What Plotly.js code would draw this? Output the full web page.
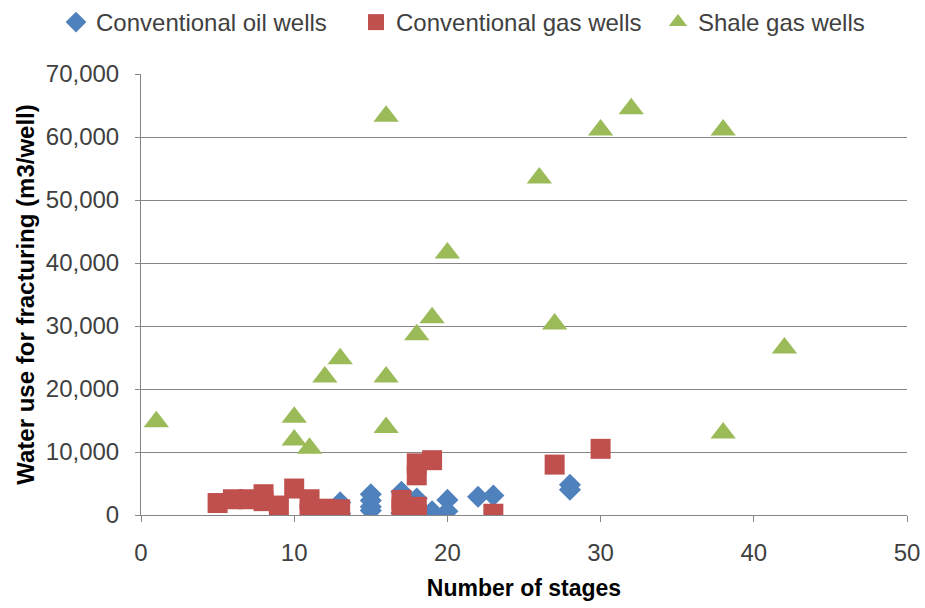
<!DOCTYPE html>
<html>
<head>
<meta charset="utf-8">
<script src="https://cdn.plot.ly/plotly-3.0.1.min.js"></script>
<style>html,body{margin:0;padding:0;background:#fff;}#chart{width:925px;height:608px;}</style>
</head>
<body>
<div id="chart"></div>
<script>
// Conventional oil wells
const oilStages = [13, 13, 15, 15, 15, 15, 17, 17, 18, 19, 20, 20, 22, 23, 28, 28];
const oilWater  = [2000, 200, 3300, 2300, 1300, 700, 3700, 300, 2600, 600, 2400, 600, 2900, 3100, 4800, 4000];

// Conventional gas wells
const gasStages = [5, 6, 7, 8, 8, 9, 10, 11, 11, 12, 12, 13, 17, 17, 18, 18, 18, 18, 19, 23, 27, 30];
const gasWater  = [1900, 2500, 2500, 3300, 2200, 1500, 4200, 2500, 200, 1000, 200, 900, 2400, 1000, 8200, 6300, 1300, 200, 8700, 200, 8000, 10500];

// Shale gas wells
const shaleStages = [1, 10, 10, 11, 12, 13, 16, 16, 16, 18, 19, 20, 26, 27, 30, 32, 38, 38, 42];
const shaleWater  = [14800, 15500, 11900, 10600, 21900, 24800, 63300, 21900, 13900, 28600, 31300, 41600, 53500, 30300, 61100, 64500, 61100, 13000, 26500];

const seriesNames = ['Conventional oil wells', 'Conventional gas wells', 'Shale gas wells'];
const xTitle = 'Number of stages';
const yTitle = 'Water use for fracturing (m3/well)';

const FONT = '"Liberation Sans", Arial, sans-serif';

const traces = [
  {x: oilStages, y: oilWater, name: seriesNames[0], type: 'scatter', mode: 'markers', legend: 'legend',
   marker: {symbol: 'diamond', size: 17, color: '#4F81BD', line: {width: 0}}},
  {x: gasStages, y: gasWater, name: seriesNames[1], type: 'scatter', mode: 'markers', legend: 'legend2',
   marker: {symbol: 'square', size: 20, color: '#C0504D', line: {width: 0}}},
  {x: shaleStages, y: shaleWater, name: seriesNames[2], type: 'scatter', mode: 'markers', legend: 'legend3',
   marker: {symbol: 'triangle-up', size: 22, color: '#9BBB59', line: {width: 0}}}
];

function leg(x) {
  return {orientation: 'h', x: x, xanchor: 'left', xref: 'container', y: 1.0, yanchor: 'top', yref: 'container',
          font: {family: FONT, size: 24, color: '#404040'}, itemsizing: 'trace',
          bgcolor: 'rgba(0,0,0,0)', borderwidth: 0};
}

const layout = {
  width: 925, height: 608,
  margin: {l: 141, r: 18, t: 74, b: 93, pad: 0},
  paper_bgcolor: '#ffffff', plot_bgcolor: '#ffffff',
  font: {family: FONT, size: 24, color: '#404040'},
  showlegend: true,
  legend: leg(56 / 925),
  legend2: leg(356 / 925),
  legend3: leg(658 / 925),
  xaxis: {range: [0, 50], dtick: 10, tick0: 0, showgrid: false, zeroline: false,
          showline: true, linecolor: '#868686', linewidth: 1,
          ticks: 'outside', ticklen: 6, tickcolor: '#868686', ticklabelstandoff: 10,
          tickfont: {family: FONT, size: 24, color: '#404040'},
          title: {text: xTitle, font: {family: FONT, size: 23, color: '#000000', weight: 'bold'}, standoff: 15},
          fixedrange: true},
  yaxis: {range: [0, 70000], dtick: 10000, tick0: 0, tickformat: ',d',
          showgrid: true, gridcolor: '#868686', gridwidth: 1, zeroline: false,
          showline: true, linecolor: '#868686', linewidth: 1,
          ticks: 'outside', ticklen: 5, tickcolor: '#868686', ticklabelstandoff: 11,
          tickfont: {family: FONT, size: 24, color: '#404040'},
          title: {text: yTitle, font: {family: FONT, size: 24, color: '#000000', weight: 'bold'}, standoff: 4},
          fixedrange: true}
};

Plotly.newPlot('chart', traces, layout, {staticPlot: true, displayModeBar: false});
</script>
</body>
</html>
